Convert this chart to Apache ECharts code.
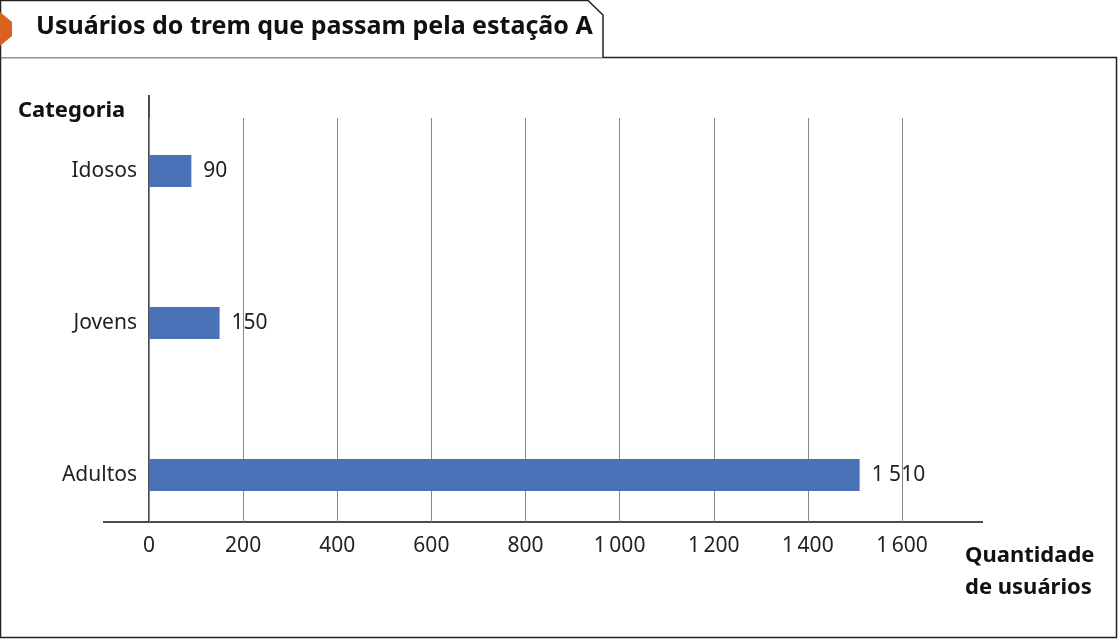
<!DOCTYPE html><html><head><meta charset="utf-8"><script src="https://cdn.jsdelivr.net/npm/echarts@6/dist/echarts.min.js"></script>
<style>body{margin:0;background:#fff}#c{width:1118px;height:640px}</style></head><body><div id="c"></div><script>
const categories=['Adultos','Jovens','Idosos'];
const values=[1510,150,90];
const valueLabels=['1 510','150','90'];
const F='Noto Sans';
const fmt=v=>v>=1000?Math.floor(v/1000)+'\u2009'+String(v%1000).padStart(3,'0'):String(v);
const ch=echarts.init(document.getElementById('c'));
ch.setOption({
 animation:false,
 grid:[{left:149,right:216,top:95,height:456},{left:149,right:216,top:118,bottom:118}],
 xAxis:[{gridIndex:0,type:'value',min:0,max:1600,show:false},
  {gridIndex:1,type:'value',min:0,max:1600,interval:200,axisLine:{show:false},axisTick:{show:false},
   splitLine:{lineStyle:{color:'#888',width:1}},axisLabel:{formatter:fmt,fontFamily:F,fontSize:21,color:'#222',margin:14}}],
 yAxis:[{gridIndex:0,type:'category',data:categories,axisLine:{show:false},axisTick:{show:false},
   axisLabel:{fontFamily:F,fontSize:21,color:'#222',margin:12}},
  {gridIndex:1,type:'value',show:false}],
 series:[{type:'bar',xAxisIndex:0,yAxisIndex:0,data:values,barWidth:32,itemStyle:{color:'#4a72b8'},
  label:{show:true,position:'right',distance:12,fontFamily:F,fontSize:21,color:'#222',formatter:p=>valueLabels[p.dataIndex]}}],
 graphic:[
  {type:'rect',shape:{x:0.5,y:57.5,width:1116,height:580},style:{fill:'none',stroke:'#222',lineWidth:1.5},z:-1},
  {type:'polyline',shape:{points:[[0.5,57.5],[0.5,0.5],[588,0.5],[603,15],[603,57.5]]},style:{fill:'#fff',stroke:'#222',lineWidth:1.5}},
  {type:'polygon',shape:{points:[[0,12],[12,22],[12,36],[0,46]]},style:{fill:'#d9601e'}},
  {type:'text',left:36,top:14,style:{text:'Usuários do trem que passam pela estação A',font:'bold 25px "Noto Sans"',fill:'#111'}},
  {type:'line',shape:{x1:149,y1:95,x2:149,y2:522},style:{stroke:'#111',lineWidth:1.5}},
  {type:'line',shape:{x1:103,y1:522,x2:983,y2:522},style:{stroke:'#111',lineWidth:1.5}},
  {type:'text',left:18,top:100,style:{text:'Categoria',font:'bold 22px "Noto Sans"',fill:'#111'}},
  {type:'text',left:965,top:540,style:{text:'Quantidade\nde usuários',font:'bold 22px "Noto Sans"',lineHeight:32,fill:'#111'}}
 ]
});
</script></body></html>
